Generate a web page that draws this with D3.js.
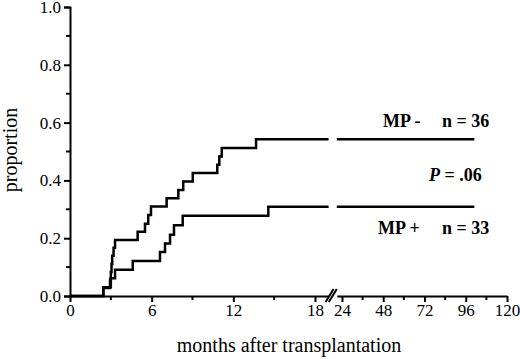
<!DOCTYPE html>
<html>
<head>
<meta charset="utf-8">
<script src="https://cdn.jsdelivr.net/npm/d3@7"></script>
<style>
    body { margin: 0; background: #fff; }
    svg { display: block; }
    svg text { font-family: "Liberation Serif", "Times New Roman", serif; fill: #000; }
</style>
</head>
<body>
<div id="chart"></div>
<script>
// Kaplan-Meier style cumulative curves (months, proportion)
const monthsMinus = [2.45, 2.94, 3.0, 3.05, 3.1, 3.2, 3.31, 4.97, 5.51, 5.75, 5.95, 7.1, 7.96, 8.32, 9.02, 10.82, 10.97, 11.15, 13.67];
const propMinus = [0.028, 0.056, 0.083, 0.111, 0.139, 0.167, 0.194, 0.222, 0.25, 0.28, 0.31, 0.338, 0.367, 0.396, 0.426, 0.454, 0.483, 0.512, 0.542];
const monthsPlus = [2.45, 3.0, 3.31, 4.61, 6.61, 6.98, 7.35, 7.64, 8.28, 14.57];
const propPlus = [0.030, 0.061, 0.091, 0.121, 0.152, 0.182, 0.212, 0.245, 0.278, 0.309];
const lastFollowUp = 101;

const yTicks = [0, 0.2, 0.4, 0.6, 0.8, 1.0];
const yMinorTicks = [0.1, 0.3, 0.5, 0.7, 0.9];
const xTicksLeft = [0, 6, 12, 18];
const xMinorLeft = [3, 9, 15];
const xTicksRight = [24, 48, 72, 96, 120];
const xMinorRight = [36, 60, 84, 108];

const W = 520, H = 359;
const svg = d3.select('#chart').append('svg')
    .attr('width', W)
    .attr('height', H);

// broken x axis: two linear pieces
const xLeft = d3.scaleLinear().domain([0, 19]).range([70, 328.6]);
const xRight = d3.scaleLinear().domain([21, 120]).range([336.8, 507]);
const y = d3.scaleLinear().domain([0, 1]).range([296, 7]);

// y axis
const yAxis = d3.axisLeft(y).tickValues(yTicks).tickSize(6).tickPadding(3).tickFormat(d3.format('.1f'));
const yAxisG = svg.append('g').attr('transform', 'translate(70,0)').call(yAxis);
yAxisG.append('g').selectAll('line').data(yMinorTicks).join('line')
    .attr('x1', -4).attr('x2', 0)
    .attr('y1', d => y(d)).attr('y2', d => y(d));

// x axis, left piece
const xAxisL = d3.axisBottom(xLeft).tickValues(xTicksLeft).tickSize(6).tickPadding(2).tickSizeOuter(0);
const xAxisLG = svg.append('g').attr('transform', 'translate(0,296)').call(xAxisL);
xAxisLG.append('g').selectAll('line').data(xMinorLeft).join('line')
    .attr('x1', d => xLeft(d)).attr('x2', d => xLeft(d))
    .attr('y1', 0).attr('y2', 4);

// x axis, right piece
const xAxisR = d3.axisBottom(xRight).tickValues(xTicksRight).tickSize(6).tickPadding(2).tickSizeOuter(0);
const xAxisRG = svg.append('g').attr('transform', 'translate(0,296)').call(xAxisR);
xAxisRG.append('g').selectAll('line').data(xMinorRight).join('line')
    .attr('x1', d => xRight(d)).attr('x2', d => xRight(d))
    .attr('y1', 0).attr('y2', 4);

svg.selectAll('.domain').attr('stroke', '#000').attr('stroke-width', 2);
svg.selectAll('g line').attr('stroke', '#000').attr('stroke-width', 2);
svg.selectAll('.tick text').style('font-size', '17px');

// break marks on the x axis
const breakX = [xLeft(19), xRight(21) - 5];
svg.append('g').selectAll('line').data(breakX).join('line')
    .attr('x1', d => d - 3).attr('y1', 302)
    .attr('x2', d => d + 5).attr('y2', 289)
    .attr('stroke', '#000')
    .attr('stroke-width', 2);

// step curves split over the break
function segments(months, props) {
    const pts = [[0, 0]].concat(months.map((m, i) => [m, props[i]]));
    const valueAt = t => {
        let v = 0;
        pts.forEach(p => { if (p[0] <= t) v = p[1]; });
        return v;
    };
    const left = pts.filter(p => p[0] <= 19).concat([[19, valueAt(19)]]);
    const right = [[21, valueAt(21)]].concat(pts.filter(p => p[0] > 21)).concat([[lastFollowUp, valueAt(lastFollowUp)]]);
    return [{ scale: xLeft, pts: left }, { scale: xRight, pts: right }];
}

[[monthsMinus, propMinus], [monthsPlus, propPlus]].forEach(([m, p]) => {
    segments(m, p).forEach(seg => {
        const line = d3.line()
            .x(d => seg.scale(d[0]))
            .y(d => y(d[1]))
            .curve(d3.curveStepAfter);
        svg.append('path')
            .attr('d', line(seg.pts))
            .attr('fill', 'none')
            .attr('stroke', '#000')
            .attr('stroke-width', 2.5);
    });
});

// annotations
const note = svg.append('g')
    .style('font-weight', 'bold')
    .style('font-size', '18px');
note.append('text').attr('x', 383).attr('y', 127).text('MP -');
note.append('text').attr('x', 442).attr('y', 127).text('n = 36');
note.append('text').attr('x', 378).attr('y', 234).text('MP +');
note.append('text').attr('x', 442).attr('y', 234).text('n = 33');
const pText = note.append('text').attr('x', 429).attr('y', 181);
pText.append('tspan').style('font-style', 'italic').text('P');
pText.append('tspan').text(' = .06');

// axis titles
svg.append('text')
    .attr('x', 289).attr('y', 352)
    .attr('text-anchor', 'middle')
    .style('font-size', '20px')
    .text('months after transplantation');

svg.append('text')
    .attr('transform', 'translate(17,150) rotate(-90)')
    .attr('text-anchor', 'middle')
    .style('font-size', '20px')
    .text('proportion');
</script>
</body>
</html>
